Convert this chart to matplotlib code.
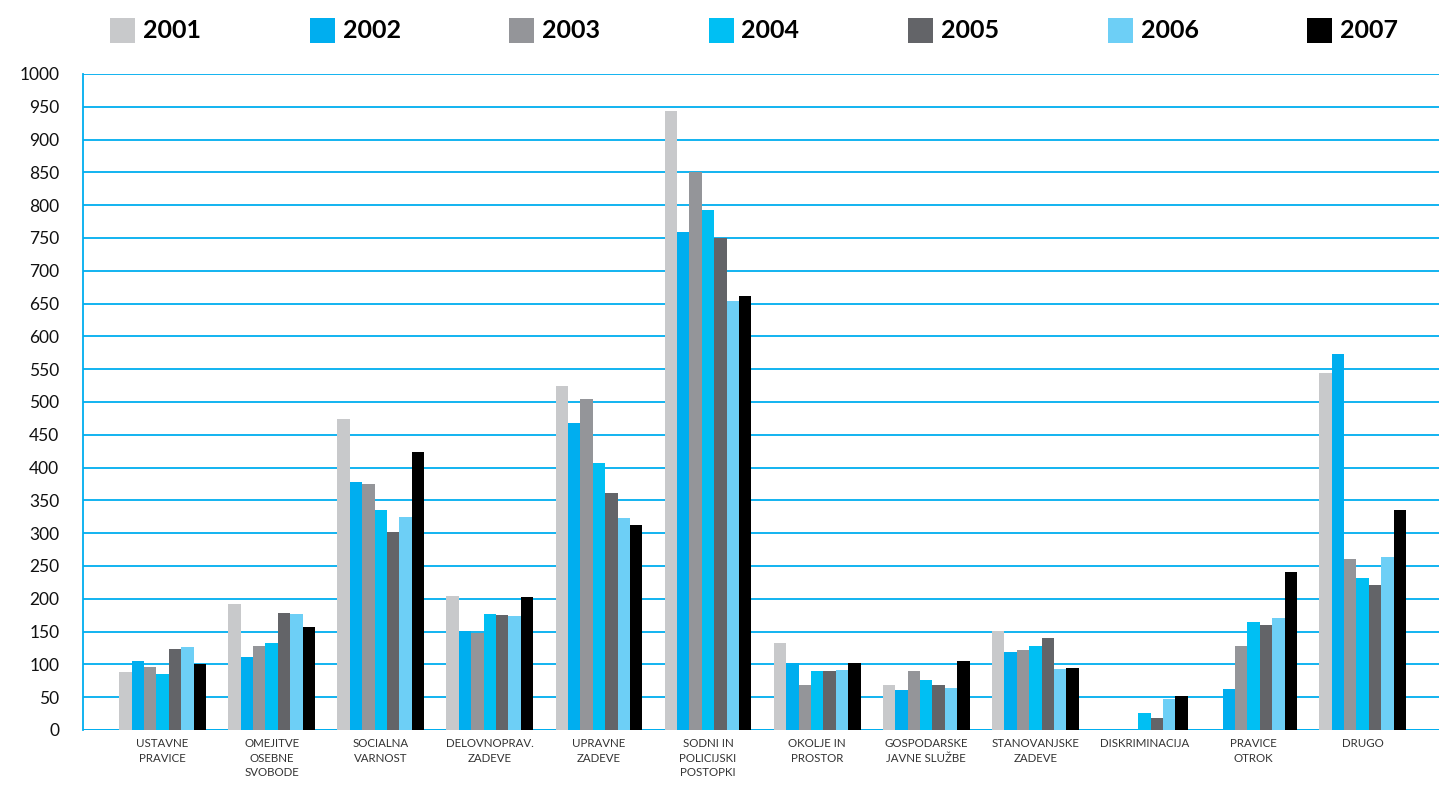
import matplotlib.pyplot as plt
import numpy as np
from matplotlib.patches import Rectangle

# categories (x axis) and yearly series
categories = ['USTAVNE\nPRAVICE', 'OMEJITVE\nOSEBNE\nSVOBODE', 'SOCIALNA\nVARNOST',
              'DELOVNOPRAV.\nZADEVE', 'UPRAVNE\nZADEVE', 'SODNI IN\nPOLICIJSKI\nPOSTOPKI',
              'OKOLJE IN\nPROSTOR', 'GOSPODARSKE\nJAVNE SLUŽBE', 'STANOVANJSKE\nZADEVE',
              'DISKRIMINACIJA', 'PRAVICE\nOTROK', 'DRUGO']
years = ['2001', '2002', '2003', '2004', '2005', '2006', '2007']

v2001 = [88, 192, 474, 204, 524, 944, 133, 69, 151, np.nan, np.nan, 544]
v2002 = [105, 111, 378, 151, 468, 759, 102, 61, 119, np.nan, 63, 573]
v2003 = [96, 128, 375, 148, 505, 851, 69, 90, 122, np.nan, 128, 261]
v2004 = [85, 133, 335, 177, 407, 793, 90, 76, 128, 26, 165, 232]
v2005 = [123, 178, 302, 175, 361, 750, 90, 69, 140, 18, 160, 221]
v2006 = [127, 177, 325, 174, 323, 654, 91, 64, 93, 47, 171, 264]
v2007 = [101, 157, 424, 203, 313, 662, 102, 105, 95, 52, 241, 335]
series = [v2001, v2002, v2003, v2004, v2005, v2006, v2007]

colors = ['#c8c9cb', '#00aeef', '#949599', '#00bff3', '#636468', '#6dcff6', '#000000']
grid_blue = '#00aeef'

plt.rcParams['font.family'] = ['Lato', 'DejaVu Sans']

fig = plt.figure(figsize=(14.39, 7.85), dpi=100)
ax = fig.add_axes([83 / 1439, 1 - 730 / 785, 1 - 83 / 1439, (730 - 74) / 785])

x = np.arange(len(categories))
w = 0.1137
for i, (vals, c) in enumerate(zip(series, colors)):
    ax.bar(x + (i - 3) * w, vals, width=w, color=c, zorder=3, linewidth=0)

ax.set_ylim(0, 1000)
ax.set_xlim(-0.729, 11.70)
ax.set_yticks(np.arange(0, 1001, 50))
ax.yaxis.grid(True, color=grid_blue, linewidth=1.3, zorder=0)
ax.set_axisbelow(True)
for s in ['top', 'right', 'bottom']:
    ax.spines[s].set_visible(False)
ax.spines['left'].set_color(grid_blue)
ax.spines['left'].set_linewidth(1.3)
ax.axhline(0, color=grid_blue, linewidth=2, zorder=2)

ax.set_xticks(x)
ax.set_xticklabels(categories, fontsize=8.3, color='#333333', linespacing=1.38, va='top')
ax.tick_params(axis='x', length=0, pad=6)
ax.tick_params(axis='y', length=0, pad=17, labelsize=12.5, labelcolor='#111111')

# legend row across the top
W, H = 1439, 785
for i, (yr, c) in enumerate(zip(years, colors)):
    x0 = 110 + i * 199.5
    fig.add_artist(Rectangle((x0 / W, 1 - 43 / H), 25 / W, 25 / H,
                             transform=fig.transFigure, color=c, linewidth=0))
    fig.text((x0 + 33) / W, 1 - 31 / H, yr, fontsize=18, fontweight='bold',
             va='center', ha='left', color='#000000')

fig.savefig('out.png', dpi=100)
